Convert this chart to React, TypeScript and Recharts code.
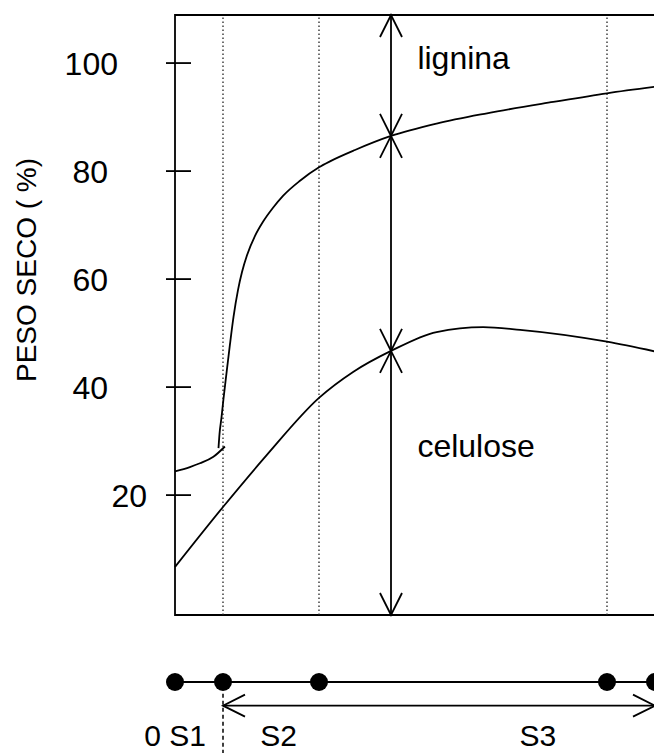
import React from "react";
import {
  ComposedChart,
  Line,
  XAxis,
  YAxis,
  Label,
  ReferenceLine,
  ReferenceArea,
  ReferenceDot,
  Scatter,
} from "recharts";

const FONT = '"Liberation Sans", Arial, Helvetica, sans-serif';

const yTicks = [20, 40, 60, 80, 100];
const yDomain: [number, number] = [-2.2, 108.9];
const xDomain: [number, number] = [0, 100];

// lignina: short early stretch, then the steep rise through S2
const ligninaEarlyX = [0, 3.1, 5.2, 8.0, 10.4];
const ligninaEarlyY = [24.4, 25.2, 25.9, 27.1, 29.0];
const ligninaX = [
  9.06, 9.27, 9.69, 10.1, 10.73, 11.46, 12.19, 13.13, 13.96, 15, 16.67, 18.33,
  20.42, 22.5, 26.04, 30, 32.29, 37.5, 45, 54.5, 65, 78.8, 90, 100,
];
const ligninaY = [
  28.7, 31.3, 34.4, 37.8, 42.6, 48.0, 53.0, 58.0, 61.3, 64.4, 68.0, 70.6,
  73.2, 75.4, 78.2, 80.7, 81.8, 83.9, 86.5, 88.8, 90.7, 92.8, 94.4, 95.6,
];

// celulose
const celuloseX = [0, 10, 19.1, 30, 37.1, 45, 54.5, 64.2, 71.9, 90, 100];
const celuloseY = [6.7, 17.8, 27.4, 38.0, 42.8, 46.7, 50.2, 51.1, 50.6, 48.4, 46.6];

// wall layer boundaries (0, S1, S2, S3, end)
const stageBounds = [0, 10, 30, 90, 100];
const dottedBounds = [10, 30, 90];
const arrowX = 45;

const zip = (xs: number[], ys: number[]) => xs.map((x, i) => ({ x, y: ys[i] }));

const ligninaEarly = zip(ligninaEarlyX, ligninaEarlyY);
const lignina = zip(ligninaX, ligninaY);
const celulose = zip(celuloseX, celuloseY);

const ligAtArrow = ligninaY[ligninaX.indexOf(arrowX)];
const celAtArrow = celuloseY[celuloseX.indexOf(arrowX)];

const HEAD_LEN = 22;
const HEAD_HALF = 11;

function DoubleArrow(props: any) {
  const { x1, y1, x2, y2 } = props;
  const dx = x2 - x1;
  const dy = y2 - y1;
  const len = Math.hypot(dx, dy) || 1;
  const ux = dx / len;
  const uy = dy / len;
  const px = -uy;
  const py = ux;
  const head = (tx: number, ty: number, dirx: number, diry: number) =>
    `M${tx - dirx * HEAD_LEN + px * HEAD_HALF},${ty - diry * HEAD_LEN + py * HEAD_HALF}` +
    `L${tx},${ty}` +
    `L${tx - dirx * HEAD_LEN - px * HEAD_HALF},${ty - diry * HEAD_LEN - py * HEAD_HALF}`;
  return (
    <g>
      <line x1={x1} y1={y1} x2={x2} y2={y2} stroke="#000" strokeWidth={1.8} />
      <path
        d={head(x2, y2, ux, uy) + head(x1, y1, -ux, -uy)}
        fill="none"
        stroke="#000"
        strokeWidth={1.8}
      />
    </g>
  );
}

// labels are hand placed, so each one sits at its own distance from the axis
const labelInset: Record<number, number> = { 20: 28, 100: 57 };

function LeftTick(props: any) {
  const { x, y, payload } = props;
  const inset = labelInset[payload.value] ?? 67;
  return (
    <g>
      <line x1={x - 9} x2={x + 16} y1={y} y2={y} stroke="#000" strokeWidth={1.8} />
      <text
        x={x - inset}
        y={y}
        dy="0.36em"
        textAnchor="end"
        fontSize={32}
        fontFamily={FONT}
        fill="#000"
      >
        {payload.value}
      </text>
    </g>
  );
}

function RightTick(props: any) {
  const { x, y } = props;
  return <line x1={x - 17} x2={x} y1={y} y2={y} stroke="#000" strokeWidth={1.8} />;
}

const renderYLabel = (props: any) => {
  const vb = props.viewBox || { x: 0 };
  const cx = vb.x + 26;
  const cy = 270;
  return (
    <text
      x={cx}
      y={cy}
      dy="0.35em"
      transform={`rotate(-90, ${cx}, ${cy})`}
      textAnchor="middle"
      fontSize={28}
      fontFamily={FONT}
      fill="#000"
    >
      PESO SECO ( %)
    </text>
  );
};

const textShape =
  (label: string, anchor: "start" | "middle" = "start", size = 32) =>
  (p: any) => (
    <text x={p.cx} y={p.cy} textAnchor={anchor} fontSize={size} fontFamily={FONT} fill="#000">
      {label}
    </text>
  );

const Dot = (p: any) => <circle cx={p.cx} cy={p.cy} r={9} fill="#000" />;

export default function App() {
  return (
    <div
      style={{
        position: "absolute",
        left: 0,
        top: 0,
        width: 654,
        height: 753,
        overflow: "hidden",
        background: "#fff",
      }}
    >
      <ComposedChart width={700} height={640} margin={{ top: 15, right: 45, bottom: 25, left: 0 }}>
        <XAxis dataKey="x" type="number" domain={xDomain} hide />
        <YAxis
          type="number"
          domain={yDomain}
          ticks={yTicks}
          width={175}
          axisLine={false}
          tickLine={false}
          tickSize={0}
          tickMargin={0}
          tick={<LeftTick />}
          interval={0}
        >
          <Label content={renderYLabel} />
        </YAxis>
        <YAxis
          yAxisId="right"
          orientation="right"
          type="number"
          domain={yDomain}
          ticks={yTicks}
          width={0}
          axisLine={false}
          tickLine={false}
          tickSize={0}
          tickMargin={0}
          tick={<RightTick />}
          interval={0}
        />
        <ReferenceArea
          x1={xDomain[0]}
          x2={xDomain[1]}
          y1={yDomain[0]}
          y2={yDomain[1]}
          fill="none"
          fillOpacity={0}
          stroke="#000"
          strokeWidth={1.8}
          ifOverflow="visible"
        />
        {dottedBounds.map((b) => (
          <ReferenceLine
            key={b}
            x={b}
            stroke="#222"
            strokeWidth={1.3}
            strokeDasharray="1.5 2.5"
            ifOverflow="visible"
          />
        ))}
        <Line
          data={ligninaEarly}
          dataKey="y"
          type="monotone"
          stroke="#000"
          strokeWidth={1.8}
          dot={false}
          isAnimationActive={false}
        />
        <Line
          data={lignina}
          dataKey="y"
          type="monotone"
          stroke="#000"
          strokeWidth={1.8}
          dot={false}
          isAnimationActive={false}
        />
        <Line
          data={celulose}
          dataKey="y"
          type="monotone"
          stroke="#000"
          strokeWidth={1.8}
          dot={false}
          isAnimationActive={false}
        />
        <ReferenceLine
          segment={[
            { x: arrowX, y: yDomain[1] },
            { x: arrowX, y: ligAtArrow },
          ]}
          ifOverflow="visible"
          shape={DoubleArrow}
        />
        <ReferenceLine
          segment={[
            { x: arrowX, y: ligAtArrow },
            { x: arrowX, y: celAtArrow },
          ]}
          ifOverflow="visible"
          shape={DoubleArrow}
        />
        <ReferenceLine
          segment={[
            { x: arrowX, y: celAtArrow },
            { x: arrowX, y: yDomain[0] },
          ]}
          ifOverflow="visible"
          shape={DoubleArrow}
        />
        <ReferenceDot x={50.5} y={98.9} r={0} ifOverflow="visible" shape={textShape("lignina")} />
        <ReferenceDot x={50.5} y={27.0} r={0} ifOverflow="visible" shape={textShape("celulose")} />
      </ComposedChart>

      <ComposedChart width={700} height={113} margin={{ top: 42, right: 45, bottom: 0, left: 175 }}>
        <XAxis dataKey="x" type="number" domain={xDomain} hide />
        <YAxis dataKey="y" type="number" domain={[0, 3]} hide width={0} />
        <ReferenceLine
          segment={[
            { x: xDomain[0], y: 3 },
            { x: xDomain[1], y: 3 },
          ]}
          stroke="#000"
          strokeWidth={1.8}
          ifOverflow="visible"
        />
        <ReferenceLine
          segment={[
            { x: stageBounds[1], y: 2 },
            { x: stageBounds[4], y: 2 },
          ]}
          ifOverflow="visible"
          shape={DoubleArrow}
        />
        {[stageBounds[1], stageBounds[4]].map((b) => (
          <ReferenceLine
            key={b}
            segment={[
              { x: b, y: 2.5 },
              { x: b, y: 0 },
            ]}
            stroke="#000"
            strokeWidth={1.5}
            strokeDasharray="4 3"
            ifOverflow="visible"
          />
        ))}
        <Scatter
          data={stageBounds.map((x) => ({ x, y: 3 }))}
          shape={Dot}
          isAnimationActive={false}
        />
        <ReferenceDot x={0} y={0.3} r={0} ifOverflow="visible" shape={textShape("0 S1", "middle", 30)} />
        <ReferenceDot x={21.6} y={0.3} r={0} ifOverflow="visible" shape={textShape("S2", "middle", 30)} />
        <ReferenceDot x={75.6} y={0.3} r={0} ifOverflow="visible" shape={textShape("S3", "middle", 30)} />
      </ComposedChart>
    </div>
  );
}
